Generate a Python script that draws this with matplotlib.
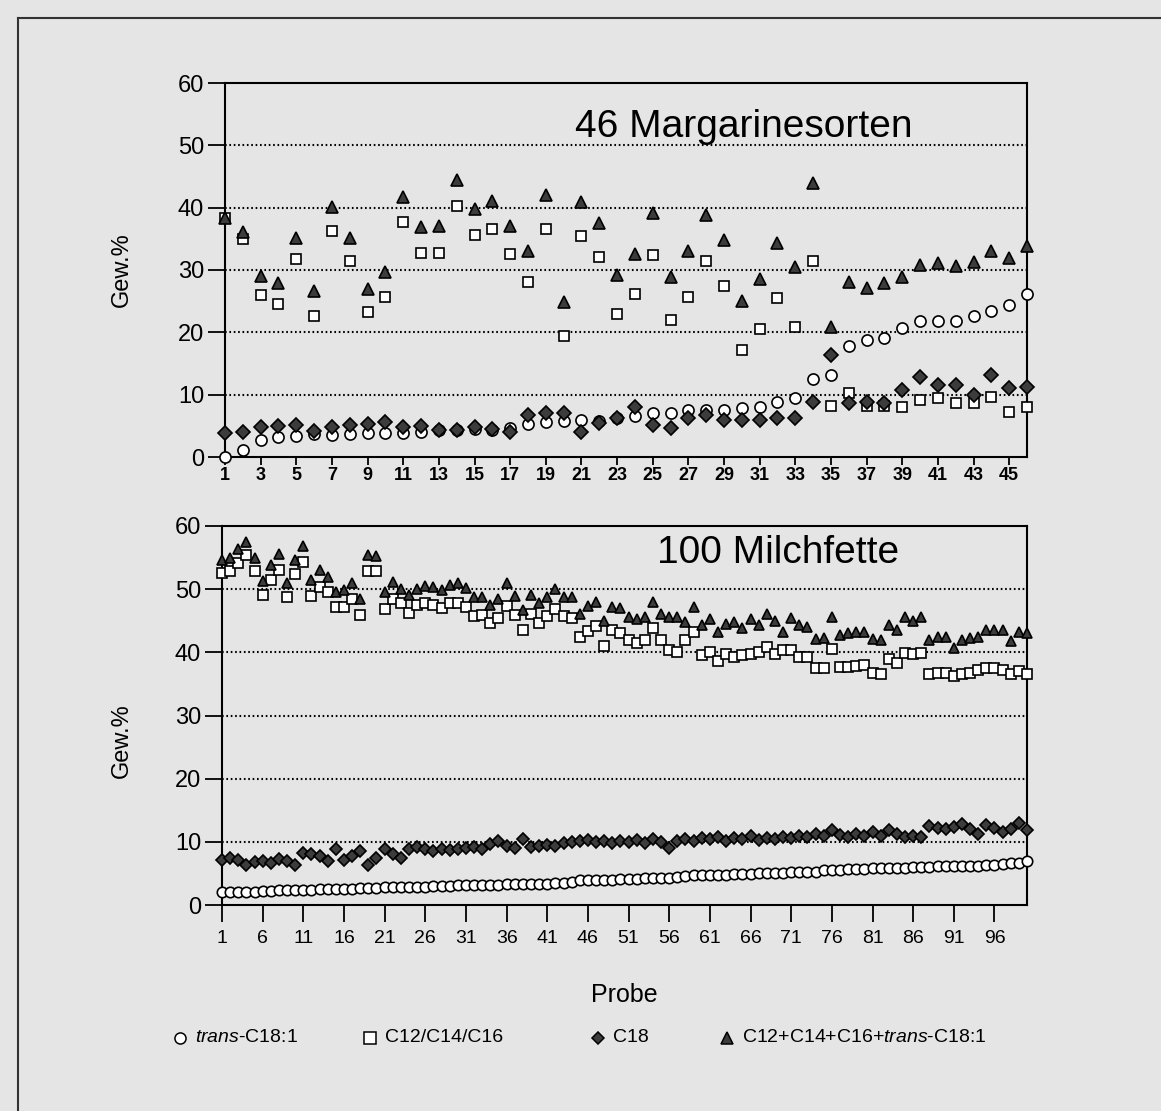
import numpy as np
import matplotlib
matplotlib.use('Agg')
import matplotlib.pyplot as plt
from matplotlib.lines import Line2D

plt.rcParams['font.family'] = ['Liberation Sans', 'DejaVu Sans']
plt.rcParams['mathtext.fontset'] = 'custom'
plt.rcParams['mathtext.rm'] = 'Liberation Sans'
plt.rcParams['mathtext.it'] = 'Liberation Sans:italic'

# ---- 46 Margarinesorten ----
marg_trans = [0.0, 1.2, 2.8, 3.2, 3.4, 3.7, 3.6, 3.7, 3.8, 3.9,
              3.9, 4.0, 4.3, 4.3, 4.5, 4.4, 4.7, 5.3, 5.6, 5.8,
              5.9, 5.8, 6.2, 6.6, 7.0, 7.0, 7.5, 7.5, 7.6, 7.9,
              8.1, 8.9, 9.4, 12.5, 13.1, 17.8, 18.7, 19.1, 20.7, 21.8,
              21.8, 21.8, 22.7, 23.4, 24.4, 26.1]
marg_c12_16 = [38.4, 35.0, 26.0, 24.5, 31.8, 22.7, 36.2, 31.4, 23.2, 25.6,
               37.7, 32.8, 32.8, 40.3, 35.6, 36.5, 32.6, 28.1, 36.6, 19.4,
               35.5, 32.1, 23.0, 26.1, 32.4, 22.0, 25.7, 31.4, 27.4, 17.2,
               20.5, 25.5, 20.9, 31.4, 8.2, 10.2, 8.2, 8.2, 8.0, 9.1,
               9.5, 8.6, 8.7, 9.6, 7.2, 8.0]
marg_c18 = [3.85, 4.0, 4.8, 5.0, 5.2, 4.1, 4.8, 5.1, 5.3, 5.6,
            4.8, 4.9, 4.4, 4.4, 4.8, 4.5, 4.0, 6.8, 7.0, 7.1,
            4.0, 5.5, 6.3, 8.0, 5.2, 4.6, 6.2, 6.8, 6.0, 6.0,
            6.0, 6.3, 6.3, 8.8, 16.4, 8.6, 8.9, 8.6, 10.7, 12.8,
            11.5, 11.5, 9.9, 13.2, 11.1, 11.2]
marg_sum = [38.4, 36.1, 29.1, 27.9, 35.2, 26.7, 40.1, 35.2, 26.9, 29.6,
            41.7, 36.9, 37.1, 44.5, 39.8, 41.0, 37.1, 33.0, 42.0, 24.9,
            40.9, 37.6, 29.2, 32.6, 39.1, 28.9, 33.0, 38.8, 34.8, 25.1,
            28.5, 34.4, 30.5, 44.0, 20.9, 28.1, 27.1, 27.9, 28.9, 30.8,
            31.1, 30.6, 31.3, 33.0, 32.0, 33.8]

# ---- 100 Milchfette ----
milk_trans = [2.0, 2.0, 2.1, 2.1, 2.1, 2.2, 2.2, 2.3, 2.3, 2.4,
              2.4, 2.4, 2.5, 2.5, 2.5, 2.6, 2.6, 2.7, 2.7, 2.7,
              2.8, 2.8, 2.8, 2.9, 2.9, 2.9, 3.0, 3.0, 3.0, 3.1,
              3.1, 3.1, 3.2, 3.2, 3.2, 3.3, 3.3, 3.3, 3.4, 3.4,
              3.4, 3.5, 3.5, 3.6, 3.9, 4.0, 4.0, 4.0, 4.0, 4.1,
              4.1, 4.1, 4.2, 4.2, 4.2, 4.3, 4.5, 4.6, 4.7, 4.7,
              4.8, 4.8, 4.8, 4.9, 4.9, 4.9, 5.0, 5.0, 5.1, 5.1,
              5.2, 5.2, 5.3, 5.3, 5.5, 5.6, 5.6, 5.7, 5.7, 5.7,
              5.8, 5.8, 5.8, 5.9, 5.9, 6.0, 6.0, 6.0, 6.1, 6.1,
              6.1, 6.2, 6.2, 6.2, 6.3, 6.4, 6.5, 6.6, 6.7, 6.9]
milk_c12_16 = [52.6, 52.9, 54.1, 55.4, 52.8, 49.1, 51.5, 53.0, 48.7, 52.4,
               54.3, 48.9, 50.4, 49.5, 47.2, 47.2, 48.4, 45.9, 52.8, 52.8,
               46.8, 48.4, 47.8, 46.3, 47.5, 47.8, 47.5, 47.0, 47.8, 47.8,
               47.2, 45.7, 45.9, 44.6, 45.5, 47.4, 45.9, 43.6, 46.0, 44.7,
               45.7, 46.8, 45.7, 45.5, 42.5, 43.3, 44.2, 41.0, 43.5, 43.1,
               41.9, 41.4, 41.9, 43.8, 41.9, 40.4, 40.1, 41.9, 43.2, 39.6,
               40.1, 38.6, 39.8, 39.3, 39.6, 39.7, 40.1, 40.9, 39.8, 40.4,
               40.4, 39.2, 39.2, 37.5, 37.5, 40.6, 37.6, 37.6, 37.9, 38.0,
               36.7, 36.5, 39.0, 38.3, 39.9, 39.8, 39.9, 36.6, 36.7, 36.7,
               36.2, 36.5, 36.7, 37.2, 37.5, 37.5, 37.2, 36.5, 37.1, 36.6]
milk_c18 = [7.1, 7.5, 7.1, 6.3, 6.8, 7.0, 6.7, 7.3, 7.0, 6.4,
            8.2, 8.0, 7.8, 6.9, 8.9, 7.2, 7.8, 8.5, 6.3, 7.5,
            8.8, 8.1, 7.5, 8.8, 9.2, 8.9, 8.6, 8.9, 8.7, 8.9,
            9.0, 9.2, 8.9, 9.6, 10.2, 9.3, 9.0, 10.5, 9.2, 9.3,
            9.5, 9.4, 9.8, 10.0, 10.2, 10.3, 10.0, 10.1, 9.8, 10.2,
            10.0, 10.3, 9.8, 10.4, 10.0, 9.0, 10.2, 10.5, 10.1, 10.6,
            10.4, 10.8, 10.2, 10.6, 10.4, 10.9, 10.3, 10.6, 10.5, 10.8,
            10.6, 10.9, 10.7, 11.2, 11.0, 11.8, 11.1, 10.7, 11.3, 11.0,
            11.5, 10.9, 11.8, 11.2, 10.8, 11.0, 10.8, 12.5, 12.2, 12.0,
            12.4, 12.8, 12.0, 11.3, 12.6, 12.2, 11.5, 12.0, 13.0, 11.8]
milk_sum = [54.6, 55.0, 56.3, 57.4, 55.0, 51.3, 53.8, 55.5, 51.0, 54.6,
            56.8, 51.5, 53.1, 51.9, 49.6, 49.8, 50.9, 48.4, 55.4, 55.2,
            49.5, 51.2, 50.1, 49.1, 50.0, 50.5, 50.3, 49.9, 50.7, 50.9,
            50.2, 48.7, 48.8, 47.5, 48.5, 50.9, 48.9, 46.7, 49.1, 47.8,
            48.8, 50.0, 48.8, 48.7, 46.0, 47.4, 48.0, 44.9, 47.1, 47.0,
            45.6, 45.3, 45.6, 48.0, 46.1, 45.6, 45.6, 44.8, 47.1, 44.4,
            45.3, 43.2, 44.5, 44.8, 43.9, 45.3, 44.4, 46.1, 44.9, 43.2,
            45.4, 44.3, 44.0, 42.1, 42.2, 45.6, 42.8, 43.0, 43.2, 43.2,
            42.1, 41.9, 44.3, 43.6, 45.6, 44.9, 45.6, 41.9, 42.4, 42.4,
            40.7, 41.9, 42.3, 42.4, 43.5, 43.6, 43.6, 41.8, 43.2, 43.0]

bg = '#e5e5e5'
dark = '#3c3c3c'
W, H = 1161, 1111
fig = plt.figure(figsize=(W / 100, H / 100), dpi=100, facecolor=bg)


def make_axes(rect, series, n, xticks, ms, title, title_xy, ylab_xy):
    ax = fig.add_axes(rect)
    ax.set_facecolor(bg)
    x = np.arange(1, n + 1)
    trans, c1216, c18, csum = series
    kw = dict(linestyle='none', clip_on=False, markeredgecolor='black', markeredgewidth=1.2)
    ax.plot(x, trans, marker='o', markersize=ms[0], markerfacecolor='white', zorder=3, **kw)
    ax.plot(x, c1216, marker='s', markersize=ms[1], markerfacecolor='white', zorder=4, **kw)
    ax.plot(x, c18, marker='D', markersize=ms[2], markerfacecolor=dark, zorder=5, **kw)
    ax.plot(x, csum, marker='^', markersize=ms[3], markerfacecolor=dark, zorder=6, **kw)
    ax.set_xlim(1, n)
    ax.set_ylim(0, 60)
    ax.set_yticks(range(0, 61, 10))
    for v in range(10, 60, 10):
        ax.axhline(v, color='black', linewidth=1.5, linestyle=(0, (0.8, 1.3)), zorder=1)
    ax.set_xticks(xticks)
    ax.tick_params(axis='y', direction='out', length=12, width=1.3, labelsize=17, pad=3)
    for s in ax.spines.values():
        s.set_linewidth(1.5)
    ax.set_ylabel('Gew.%', fontsize=17)
    ax.yaxis.set_label_coords(*ylab_xy)
    ax.text(title_xy[0], title_xy[1], title, transform=ax.transAxes,
            ha='center', va='center', fontsize=28)
    return ax


ax1 = make_axes([225 / W, 1 - 457 / H, (1027 - 225) / W, (457 - 83) / H],
                (marg_trans, marg_c12_16, marg_c18, marg_sum), 46,
                list(range(1, 46, 2)), (8, 7, 7, 8.5),
                '46 Margarinesorten', (0.647, 0.882), (-0.115, 0.5))
ax1.set_xticklabels([str(t) for t in range(1, 46, 2)], fontsize=13, fontweight='bold')
ax1.tick_params(axis='x', direction='out', length=6, width=1.3, pad=1)

ax2 = make_axes([222 / W, 1 - 905 / H, (1027 - 222) / W, (905 - 526) / H],
                (milk_trans, milk_c12_16, milk_c18, milk_sum), 100,
                list(range(1, 100, 5)), (7.5, 6.5, 6.5, 7.5),
                '100 Milchfette', (0.691, 0.929), (-0.111, 0.435))
ax2.set_xticklabels([str(t) for t in range(1, 100, 5)], fontsize=14)
ax2.tick_params(axis='x', direction='out', length=12, width=1.3, pad=6)
ax2.set_xlabel('Probe', fontsize=18, labelpad=26)

# legend drawn in pixel space of the figure
lg = fig.add_axes([0, 0, 1, 1], facecolor='none')
lg.set_xlim(0, W)
lg.set_ylim(H, 0)
lg.axis('off')
ly = 1038
entries = [(180, 'o', 'white', r'$\it{trans}$-C18:1'),
           (370, 's', 'white', 'C12/C14/C16'),
           (598, 'D', dark, 'C18'),
           (727, '^', dark, r'C12+C14+C16+$\it{trans}$-C18:1')]
for lx, m, fc, lab in entries:
    lg.plot([lx], [ly], marker=m, markersize=8 if m != 'D' else 6.5,
            markerfacecolor=fc, markeredgecolor='black', markeredgewidth=1.1,
            linestyle='none')
    lg.text(lx + 15, ly, lab, fontsize=14, ha='left', va='center')

# outer frame of the scanned figure
fig.add_artist(Line2D([18 / W, 18 / W], [0, 1 - 18 / H], color='#333333', linewidth=1.5))
fig.add_artist(Line2D([18 / W, 1], [1 - 18 / H, 1 - 18 / H], color='#333333', linewidth=1.5))

fig.savefig('out.png', dpi=100, facecolor=bg)
